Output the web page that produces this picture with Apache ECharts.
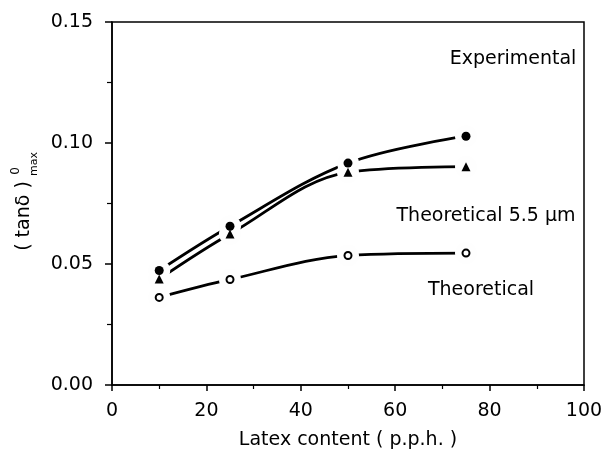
<!DOCTYPE html>
<html>
<head>
<meta charset="utf-8">
<script src="https://cdn.jsdelivr.net/npm/echarts@6/dist/echarts.min.js"></script>
<style>
  html, body { margin: 0; padding: 0; background: #fff; }
  #chart { width: 609px; height: 458px; }
</style>
</head>
<body>
<div id="chart"></div>
<script>
// Latex content (p.p.h.)
const latexContent = [10, 25, 50, 75];
// (tan δ)max values
const experimental = [0.0473, 0.0656, 0.0917, 0.1028];
const theoretical55 = [0.0438, 0.0624, 0.0879, 0.0902];
const theoretical = [0.0362, 0.0436, 0.0535, 0.0545];

const xTicks = { min: 0, max: 100, step: 20 };
const yTicks = { min: 0, max: 0.15, step: 0.05 };

const FONT = '"DejaVu Sans", sans-serif';

const pairs = vals => latexContent.map((x, i) => [x, vals[i]]);

const chart = echarts.init(document.getElementById('chart'), null, { renderer: 'canvas' });

const curve = (vals) => ({
  type: 'line',
  data: pairs(vals),
  smooth: 0.35,
  showSymbol: false,
  symbol: 'none',
  lineStyle: { color: '#000', width: 2.8 },
  z: 2,
  silent: true
});

const marker = (vals, symbol, size, fill, border) => ({
  type: 'scatter',
  data: pairs(vals),
  symbol: symbol,
  symbolSize: size,
  itemStyle: { color: fill, borderColor: '#000', borderWidth: border, opacity: 1 },
  z: 5,
  silent: true
});

const axisText = { color: '#000', fontFamily: FONT, fontSize: 19 };

chart.setOption({
  backgroundColor: '#fff',
  animation: false,
  grid: {
    left: 112, right: 25, top: 22, bottom: 73,
    show: true, borderColor: '#000', borderWidth: 1.5, backgroundColor: 'transparent'
  },
  xAxis: {
    type: 'value',
    min: xTicks.min, max: xTicks.max, interval: xTicks.step,
    name: 'Latex content ( p.p.h. )',
    nameLocation: 'middle',
    nameGap: 46,
    nameTextStyle: Object.assign({}, axisText, { fontSize: 19 }),
    axisLine: { lineStyle: { color: '#000', width: 1.5 } },
    axisTick: { show: true, inside: false, length: 6, lineStyle: { color: '#000', width: 1.5 } },
    minorTick: { show: true, splitNumber: 2, length: 4, lineStyle: { color: '#000', width: 1.2 } },
    axisLabel: Object.assign({}, axisText, { margin: 17 }),
    splitLine: { show: false }
  },
  yAxis: {
    type: 'value',
    min: yTicks.min, max: yTicks.max, interval: yTicks.step,
    axisLine: { show: true, lineStyle: { color: '#000', width: 1.5 } },
    axisTick: { show: true, inside: false, length: 7, lineStyle: { color: '#000', width: 1.5 } },
    minorTick: { show: true, splitNumber: 2, length: 5, lineStyle: { color: '#000', width: 1.2 } },
    axisLabel: Object.assign({}, axisText, {
      margin: 19,
      formatter: v => v.toFixed(2)
    }),
    splitLine: { show: false }
  },
  series: [
    curve(experimental),
    curve(theoretical55),
    curve(theoretical),
    // paper-coloured discs break the curves around each data point
    {
      type: 'custom',
      data: pairs(experimental).concat(pairs(theoretical55), pairs(theoretical)),
      encode: { x: 0, y: 1 },
      renderItem: (params, api) => {
        const p = api.coord([api.value(0), api.value(1)]);
        return {
          type: 'circle',
          shape: { cx: p[0], cy: p[1], r: 11 },
          style: { fill: '#fefefe', stroke: null, opacity: 1 }
        };
      },
      z: 4,
      silent: true
    },
    marker(experimental, 'circle', 9, '#000', 0),
    marker(theoretical55, 'triangle', 9, '#000', 0),
    marker(theoretical, 'circle', 7, '#fff', 2)
  ],
  graphic: [
    {
      type: 'group',
      x: 24, y: 216,
      rotation: Math.PI / 2,
      children: [
        { type: 'text', x: 0, y: 0,
          style: { text: '( tanδ )', font: '19px ' + FONT, fill: '#000', align: 'center', verticalAlign: 'middle' } },
        { type: 'text', x: 45, y: -8,
          style: { text: '0', font: '12px ' + FONT, fill: '#000', align: 'center', verticalAlign: 'middle' } },
        { type: 'text', x: 52, y: 10,
          style: { text: 'max', font: '11px ' + FONT, fill: '#000', align: 'center', verticalAlign: 'middle' } }
      ]
    },
    { type: 'text', x: 513, y: 59,
      style: { text: 'Experimental', font: '19px ' + FONT, fill: '#000', align: 'center', verticalAlign: 'middle' } },
    { type: 'text', x: 486, y: 216,
      style: { text: 'Theoretical 5.5 μm', font: '19px ' + FONT, fill: '#000', align: 'center', verticalAlign: 'middle' } },
    { type: 'text', x: 481, y: 290,
      style: { text: 'Theoretical', font: '19px ' + FONT, fill: '#000', align: 'center', verticalAlign: 'middle' } }
  ]
});
</script>
</body>
</html>
